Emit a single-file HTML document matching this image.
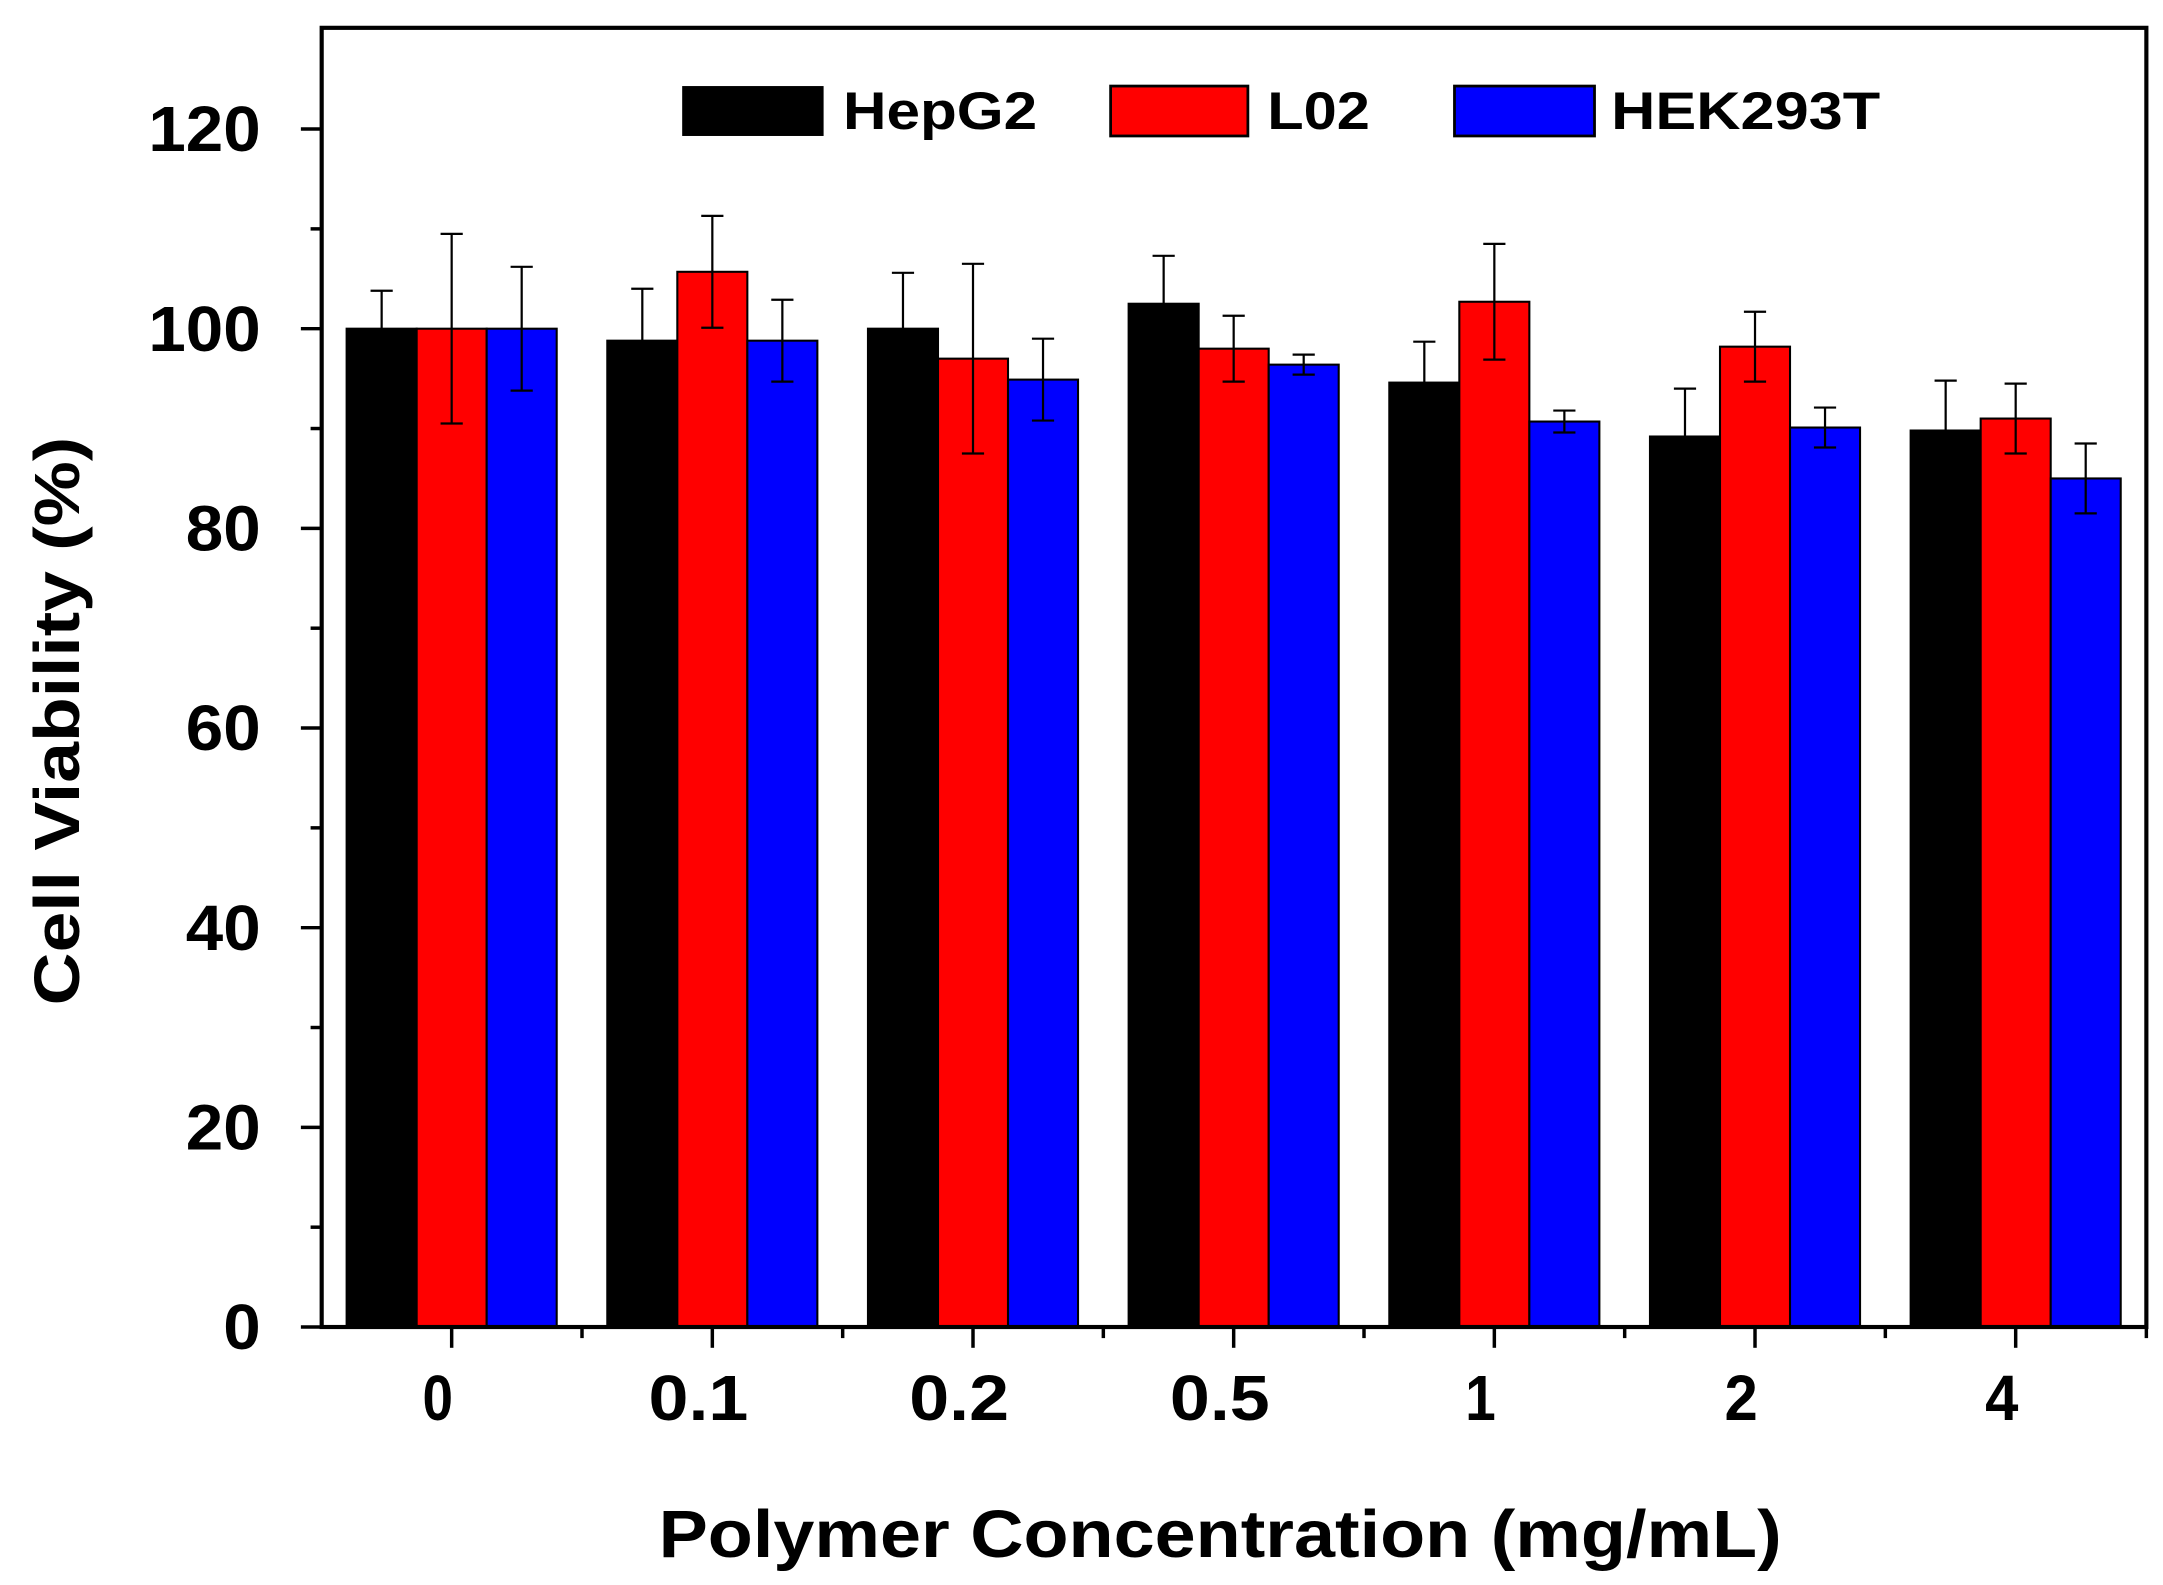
<!DOCTYPE html>
<html><head><meta charset="utf-8"><style>html,body{margin:0;padding:0;background:#fff}svg{display:block}</style></head>
<body>
<svg xmlns="http://www.w3.org/2000/svg" width="2163" height="1585" viewBox="0 0 1560 1143" font-family="Liberation Sans, Arial, sans-serif" font-weight="bold">
<rect width="1560" height="1143" fill="#fff"/>
<g id="bars" stroke="#000" stroke-width="1.5"></g>
<g id="err" stroke="#000" stroke-width="1.6" fill="none"></g>
<rect x="232" y="20" width="1316" height="937" fill="none" stroke="#000" stroke-width="3"/>
<g id="ticks" stroke="#000" stroke-width="2.5"></g>
<g font-size="46" text-anchor="end" id="ylab"></g>
<g font-size="46" text-anchor="middle" id="xlab"></g>
<rect x="492" y="62" width="102" height="36" fill="#000"/>
<rect x="801" y="62" width="99" height="36" fill="#f00" stroke="#000" stroke-width="2"/>
<rect x="1049" y="62" width="101" height="36" fill="#00f" stroke="#000" stroke-width="2"/>
<g font-size="38">
<text x="608" y="93" textLength="140" lengthAdjust="spacingAndGlyphs">HepG2</text>
<text x="914" y="93" textLength="74" lengthAdjust="spacingAndGlyphs">L02</text>
<text x="1162" y="93" textLength="194" lengthAdjust="spacingAndGlyphs">HEK293T</text>
</g>
<text x="880" y="1123" font-size="48" text-anchor="middle" textLength="810" lengthAdjust="spacingAndGlyphs">Polymer Concentration (mg/mL)</text>
<text transform="translate(57,520) rotate(-90)" font-size="46" text-anchor="middle" textLength="410" lengthAdjust="spacingAndGlyphs">Cell Viability (%)</text>
<script>
(function(){
var ns="http://www.w3.org/2000/svg";
function el(p,t,a,txt){var e=document.createElementNS(ns,t);for(var k in a)e.setAttribute(k,a[k]);if(txt!==undefined)e.textContent=txt;document.getElementById(p).appendChild(e);return e;}
function Y(v){return 957-v*7.2;}
var hep=[100,98.8,100,102.5,94.6,89.2,89.8],l02=[100,105.7,97,98,102.7,98.2,91],hek=[100,98.8,94.9,96.4,90.7,90.1,85];
var eh=[3.8,5.2,5.6,4.8,4.1,4.8,5],el2=[9.5,5.6,9.5,3.3,5.8,3.5,3.5],ek=[6.2,4.1,4.1,1,1.1,2,3.5];
var cols=["#000","#f00","#00f"],data=[hep,l02,hek],errs=[eh,el2,ek];
var labels=["0","0.1","0.2","0.5","1","2","4"];
var tw=[22,72,72,72,22,24,24];
for(var i=0;i<7;i++){
 var x0=250+188*i;
 for(var s=0;s<3;s++){
  var x=x0+s*50.5,v=data[s][i];
  el("bars","rect",{x:x,y:Y(v),width:50.5,height:957-Y(v),fill:cols[s]});
  var cx=x+25.25,e=errs[s][i];
  el("err","path",{d:"M"+cx+" "+Y(v+e)+"V"+Y(v-e)+"M"+(cx-8)+" "+Y(v+e)+"h16M"+(cx-8)+" "+Y(v-e)+"h16"});
 }
 var c=x0+75.75;
 el("ticks","line",{x1:c,y1:957,x2:c,y2:972});
 el("xlab","text",{x:c-10,y:1024,textLength:tw[i],lengthAdjust:"spacingAndGlyphs"},labels[i]);
 if(i<6)el("ticks","line",{x1:c+94,y1:957,x2:c+94,y2:965});
}
el("ticks","line",{x1:1548,y1:957,x2:1548,y2:965});
for(var v=0;v<=120;v+=10){
 var major=v%20==0;
 el("ticks","line",{x1:major?217:224,y1:Y(v),x2:232,y2:Y(v)});
 if(major){var s2=""+v;el("ylab","text",{x:188,y:Y(v)+16,textLength:s2.length*27,lengthAdjust:"spacingAndGlyphs"},s2);}
}
})();
</script>
</svg>
</body></html>
